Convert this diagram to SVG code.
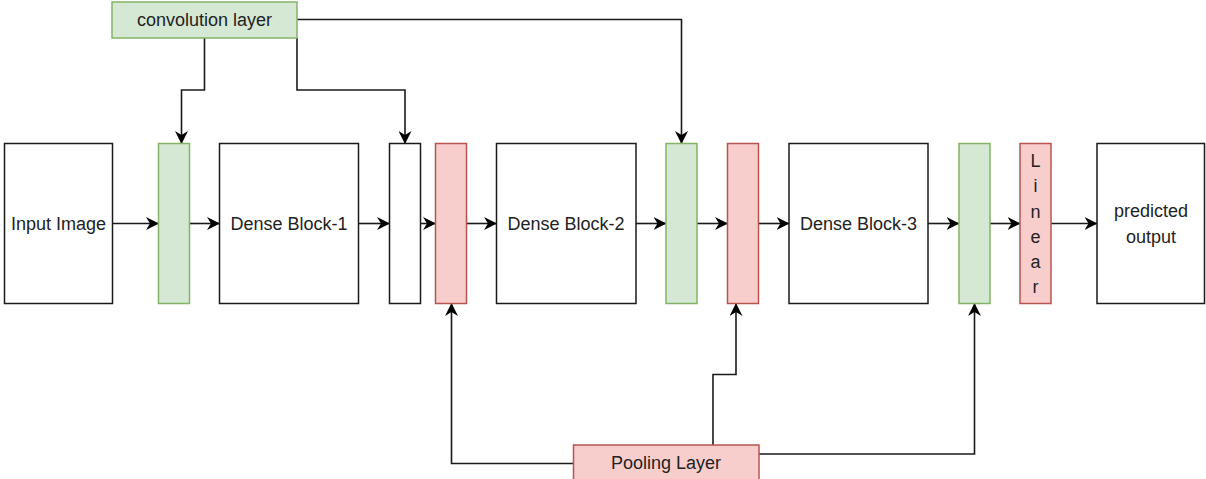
<svg xmlns="http://www.w3.org/2000/svg" width="1206" height="479" viewBox="0 0 1206 479">
<style>
.box{fill:#ffffff;stroke:#1a1a1a;stroke-width:1.5}
.green{fill:#d5e8d4;stroke:#82b366;stroke-width:1.5}
.red{fill:#f8cecc;stroke:#b85450;stroke-width:1.5}
.lbl{font-family:"Liberation Sans",Arial,sans-serif;font-size:18px;fill:#222222;text-anchor:middle}
.edge{fill:none;stroke:#1a1a1a;stroke-width:1.6}
</style>
<defs>
<marker id="arr" viewBox="0 0 13 13" refX="12.5" refY="6.5" markerWidth="13" markerHeight="13" markerUnits="userSpaceOnUse" orient="auto">
<path d="M0,0 L13,6.5 L0,13 L4,6.5 Z" fill="#000"/>
</marker>
</defs>
<rect width="1206" height="479" fill="#ffffff"/>
<g id="connectors">
<path class="edge" marker-end="url(#arr)" d="M112.5,223.5 H158.5"/>
<path class="edge" marker-end="url(#arr)" d="M189.5,223.5 H219.5"/>
<path class="edge" marker-end="url(#arr)" d="M358.5,223.5 H389.5"/>
<path class="edge" marker-end="url(#arr)" d="M420.5,223.5 H435.5"/>
<path class="edge" marker-end="url(#arr)" d="M466.5,223.5 H496.5"/>
<path class="edge" marker-end="url(#arr)" d="M636,223.5 H666"/>
<path class="edge" marker-end="url(#arr)" d="M697,223.5 H727.5"/>
<path class="edge" marker-end="url(#arr)" d="M758.5,223.5 H789"/>
<path class="edge" marker-end="url(#arr)" d="M928,223.5 H959"/>
<path class="edge" marker-end="url(#arr)" d="M990,223.5 H1020"/>
<path class="edge" marker-end="url(#arr)" d="M1051,223.5 H1097"/>
<path class="edge" marker-end="url(#arr)" d="M204.5,38 V90 H181.5 V143.5"/>
<path class="edge" marker-end="url(#arr)" d="M297,38 V90 H405 V143.5"/>
<path class="edge" marker-end="url(#arr)" d="M297,19.5 H681.5 V143.5"/>
<path class="edge" marker-end="url(#arr)" d="M573.5,463.5 H451.5 V303.5"/>
<path class="edge" marker-end="url(#arr)" d="M713,445 V374.5 H736 V303.5"/>
<path class="edge" marker-end="url(#arr)" d="M759,454 H974.5 V303.5"/>
</g>
<g id="conv-layer">
<rect class="green" x="112" y="2" width="185" height="36"/>
<text class="lbl" x="204.5" y="26">convolution layer</text>
</g>
<g id="input-image">
<rect class="box" x="4.5" y="143.5" width="108" height="160"/>
<text class="lbl" x="58.5" y="230">Input Image</text>
</g>
<g id="conv-1">
<rect class="green" x="158.5" y="143.5" width="31" height="160"/>
</g>
<g id="dense-block-1">
<rect class="box" x="219.5" y="143.5" width="139" height="160"/>
<text class="lbl" x="289" y="230">Dense Block-1</text>
</g>
<g id="transition-1">
<rect class="box" x="389.5" y="143.5" width="31" height="160"/>
</g>
<g id="pool-1">
<rect class="red" x="435.5" y="143.5" width="31" height="160"/>
</g>
<g id="dense-block-2">
<rect class="box" x="496.5" y="143.5" width="139.5" height="160"/>
<text class="lbl" x="566" y="230">Dense Block-2</text>
</g>
<g id="conv-2">
<rect class="green" x="666" y="143.5" width="31" height="160"/>
</g>
<g id="pool-2">
<rect class="red" x="727.5" y="143.5" width="31" height="160"/>
</g>
<g id="dense-block-3">
<rect class="box" x="789" y="143.5" width="139" height="160"/>
<text class="lbl" x="858.5" y="230">Dense Block-3</text>
</g>
<g id="conv-3">
<rect class="green" x="959" y="143.5" width="31" height="160"/>
</g>
<g id="linear">
<rect class="red" x="1020" y="143.5" width="31" height="160"/>
<text class="lbl" x="1035.5" y="167">L</text>
<text class="lbl" x="1035.5" y="192">i</text>
<text class="lbl" x="1035.5" y="217.5">n</text>
<text class="lbl" x="1035.5" y="243">e</text>
<text class="lbl" x="1035.5" y="268">a</text>
<text class="lbl" x="1035.5" y="293">r</text>
</g>
<g id="predicted-output">
<rect class="box" x="1097" y="143.5" width="107.5" height="160"/>
<text class="lbl" x="1151" y="217">predicted</text>
<text class="lbl" x="1151" y="243">output</text>
</g>
<g id="pooling-layer">
<rect class="red" x="573.5" y="445" width="185.5" height="36"/>
<text class="lbl" x="666" y="469">Pooling Layer</text>
</g>
</svg>
